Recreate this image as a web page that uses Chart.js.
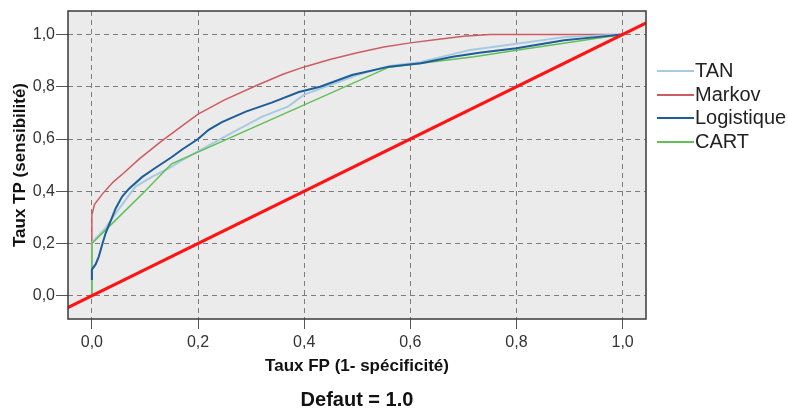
<!DOCTYPE html>
<html>
<head>
<meta charset="utf-8">
<script src="https://cdn.jsdelivr.net/npm/chart.js@4/dist/chart.umd.min.js"></script>
<style>
  body { margin: 0; background: #fff; }
  #wrap { position: relative; width: 788px; height: 412px; }
  #legend { position: absolute; left: 657px; top: 59px; font-family: "Liberation Sans", Arial, sans-serif; font-size: 20px; color: #222; }
  .item { height: 23.7px; display: flex; align-items: flex-start; white-space: nowrap; }
  .swatch { width: 37px; height: 2px; margin-top: 11px; margin-right: 1px; }
  #caption { position: absolute; left: 68px; width: 578px; top: 387px; text-align: center;
             font-family: "Liberation Sans", Arial, sans-serif; font-size: 20px; font-weight: bold; color: #111; line-height: 24px; }
</style>
</head>
<body>
<div id="wrap">
  <canvas id="roc" width="788" height="412"></canvas>
  <div id="legend"></div>
  <div id="caption">Defaut = 1.0</div>
</div>
<script>
// false positive rate / true positive rate per model
const tanFpr = [0, 0, 0.005, 0.026, 0.05, 0.082, 0.114, 0.145, 0.167, 0.205, 0.26, 0.32, 0.37, 0.4, 0.45, 0.5, 0.56, 0.62, 0.68, 0.71, 0.8, 0.89, 1];
const tanTpr = [0, 0.2, 0.215, 0.26, 0.33, 0.418, 0.456, 0.488, 0.515, 0.558, 0.62, 0.685, 0.725, 0.77, 0.807, 0.845, 0.88, 0.895, 0.925, 0.94, 0.965, 0.99, 1];

const markovFpr = [0, 0, 0.005, 0.02, 0.04, 0.06, 0.09, 0.13, 0.17, 0.2, 0.25, 0.31, 0.36, 0.4, 0.45, 0.5, 0.55, 0.6, 0.65, 0.7, 0.75, 1];
const markovTpr = [0, 0.31, 0.35, 0.39, 0.435, 0.47, 0.525, 0.59, 0.65, 0.695, 0.75, 0.805, 0.848, 0.876, 0.905, 0.93, 0.952, 0.968, 0.981, 0.993, 1, 1];

const logitFpr = [0, 0, 0.007, 0.013, 0.02, 0.026, 0.035, 0.045, 0.057, 0.07, 0.095, 0.12, 0.15, 0.17, 0.2, 0.22, 0.245, 0.29, 0.34, 0.39, 0.43, 0.49, 0.56, 0.62, 0.68, 0.73, 0.8, 0.89, 0.95, 1];
const logitTpr = [0.06, 0.1, 0.12, 0.15, 0.2, 0.24, 0.285, 0.335, 0.38, 0.41, 0.455, 0.49, 0.53, 0.56, 0.6, 0.635, 0.665, 0.705, 0.74, 0.78, 0.8, 0.845, 0.877, 0.89, 0.915, 0.93, 0.947, 0.978, 0.99, 1];

const cartFpr = [0, 0, 0.05, 0.1, 0.15, 0.56, 0.72, 0.8, 1];
const cartTpr = [0, 0.2, 0.3, 0.4, 0.505, 0.875, 0.915, 0.94, 1];

// chance line
const refFpr = [-0.05, 1.05];
const refTpr = [-0.05, 1.05];

const seriesNames = ['TAN', 'Markov', 'Logistique', 'CART'];
const seriesColors = ['#a6cbe0', '#cd5b60', '#1d5d99', '#62bf55'];

const tickValues = [0, 0.2, 0.4, 0.6, 0.8, 1.0];
const tickLabels = ['0,0', '0,2', '0,4', '0,6', '0,8', '1,0'];

const toPoints = (xs, ys) => xs.map((x, i) => ({x: x, y: ys[i]}));

const FONT = '"Liberation Sans", Arial, sans-serif';

// grey plot panel behind, dark frame on top
const panel = {
  id: 'panel',
  beforeDraw(chart) {
    const {ctx, chartArea: a} = chart;
    ctx.save();
    ctx.fillStyle = '#ebebeb';
    ctx.fillRect(a.left, a.top, a.right - a.left, a.bottom - a.top);
    ctx.restore();
  },
  afterDraw(chart) {
    const {ctx, chartArea: a} = chart;
    ctx.save();
    ctx.strokeStyle = '#3a3a3a';
    ctx.lineWidth = 1.5;
    ctx.strokeRect(a.left, a.top, a.right - a.left, a.bottom - a.top);
    ctx.restore();
  }
};

const axisCommon = (tickLen, pad) => ({
  type: 'linear',
  afterBuildTicks: (scale) => { scale.ticks = tickValues.map(v => ({value: v})); },
  ticks: {
    callback: (v) => tickLabels[tickValues.findIndex(t => Math.abs(t - v) < 1e-9)],
    color: '#333',
    font: {family: FONT, size: 16},
    padding: pad,
    maxRotation: 0
  },
  grid: {
    color: '#7d7d7d',
    lineWidth: 1,
    tickLength: tickLen,
    tickColor: '#555',
    tickBorderDash: []
  },
  border: {display: false, dash: [5, 4]}
});

const lineSet = (i, xs, ys, width, order) => ({
  label: seriesNames[i],
  data: toPoints(xs, ys),
  borderColor: seriesColors[i],
  borderWidth: width,
  pointRadius: 0,
  tension: 0,
  fill: false,
  order: order
});

new Chart(document.getElementById('roc'), {
  type: 'line',
  data: {
    datasets: [
      lineSet(0, tanFpr, tanTpr, 2, 3),
      lineSet(1, markovFpr, markovTpr, 1.5, 4),
      lineSet(2, logitFpr, logitTpr, 2, 1),
      lineSet(3, cartFpr, cartTpr, 1.5, 2),
      {
        label: 'ref',
        data: toPoints(refFpr, refTpr),
        borderColor: '#ff1414',
        borderWidth: 3,
        pointRadius: 0,
        order: 0
      }
    ]
  },
  options: {
    responsive: false,
    animation: false,
    layout: {padding: {left: 0, right: 142, top: 11, bottom: 0}},
    scales: {
      x: Object.assign(axisCommon(10, 4), {
        min: -0.045, max: 1.044,
        afterFit: (s) => { s.height = 93; },
        title: {display: true, text: 'Taux FP (1- spécificité)', color: '#111',
                font: {family: FONT, size: 17, weight: 'bold'}, padding: {top: 0, bottom: 35}}
      }),
      y: Object.assign(axisCommon(12, 1), {
        min: -0.089, max: 1.09,
        afterFit: (s) => { s.width = 68; },
        title: {display: true, text: 'Taux TP (sensibilité)', color: '#111',
                font: {family: FONT, size: 17, weight: 'bold'}, padding: {top: 10, bottom: 0}}
      })
    },
    plugins: {
      legend: {display: false},
      tooltip: {enabled: false},
      title: {display: false}
    }
  },
  plugins: [panel]
});

// legend on the right
const legend = document.getElementById('legend');
seriesNames.forEach((name, i) => {
  const row = document.createElement('div');
  row.className = 'item';
  const sw = document.createElement('span');
  sw.className = 'swatch';
  sw.style.background = seriesColors[i];
  const txt = document.createElement('span');
  txt.textContent = name;
  row.appendChild(sw);
  row.appendChild(txt);
  legend.appendChild(row);
});
</script>
</body>
</html>
